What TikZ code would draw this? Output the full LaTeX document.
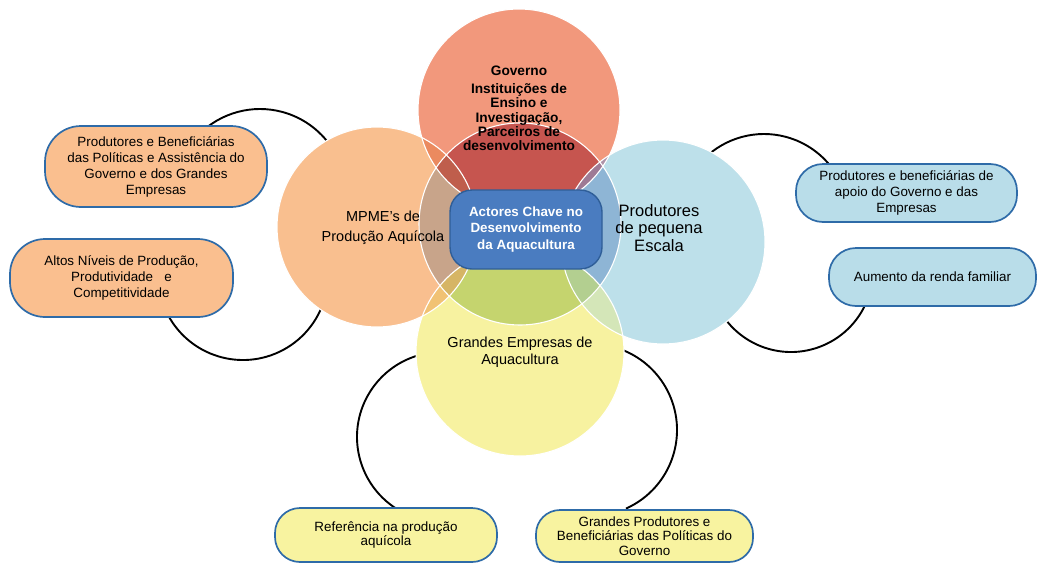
\documentclass[tikz,border=0pt]{standalone}
\usepackage{fontspec}
\setmainfont{Liberation Sans}
\definecolor{colT}{HTML}{F2987C}
\definecolor{colL}{HTML}{F9BF8F}
\definecolor{colR}{HTML}{BDE0EA}
\definecolor{colB}{HTML}{F7F2A0}
\definecolor{colTL}{HTML}{EB8A5F}
\definecolor{colTR}{HTML}{AE93A8}
\definecolor{colLB}{HTML}{F1C274}
\definecolor{colRB}{HTML}{D4E6B8}
\definecolor{colCT}{HTML}{C6554F}
\definecolor{colCL}{HTML}{C8A48A}
\definecolor{colCR}{HTML}{8EB5D5}
\definecolor{colCB}{HTML}{C5D46E}
\definecolor{colCTL}{HTML}{BF5E4C}
\definecolor{colCTR}{HTML}{9E7A95}
\definecolor{colCLB}{HTML}{D6B565}
\definecolor{colCRB}{HTML}{B3CF90}
\definecolor{boxborder}{HTML}{2E6BA8}
\definecolor{boxorange}{HTML}{FABF8F}
\definecolor{boxblue}{HTML}{B9DDE9}
\definecolor{boxyellow}{HTML}{F8F3A0}
\definecolor{ctrfill}{HTML}{4A7CC0}
\definecolor{ctrborder}{HTML}{2F5E98}
\tikzset{
  arcline/.style={line width=1.9pt, draw=black},
  ringline/.style={draw=white, line width=1.1pt},
  outbox/.style={draw=boxborder, line width=1.7pt, align=center, inner sep=0pt,
    font=\fontsize{13.4}{16}\selectfont},
  obox/.style={outbox, fill=boxorange},
  bbox/.style={outbox, fill=boxblue},
  ybox/.style={outbox, fill=boxyellow},
  ctext/.style={align=center, inner sep=0pt, font=\fontsize{14.5}{20}\selectfont},
  ctrbox/.style={draw=ctrborder, line width=1.4pt, fill=ctrfill, text=white, align=center,
    inner sep=0pt, rounded corners=22pt, font=\bfseries\fontsize{13.4}{16.7}\selectfont}
}
\begin{document}
\begin{tikzpicture}[x=1pt,y=-1pt]
\useasboundingbox (0,0) rectangle (1040,565);
% circle centres
\coordinate (cT) at (519,110);
\coordinate (cL) at (377,227);
\coordinate (cR) at (663,242);
\coordinate (cB) at (520,352);
\coordinate (cC) at (520,224);
% arc centres
\coordinate (a1) at (260,195);
\coordinate (a2) at (243,275);
\coordinate (a3) at (764,219);
\coordinate (a4) at (791,270);
\coordinate (a5) at (442,437);
\coordinate (a6) at (591,430);
% connector arcs
\draw[arcline] (a1) ++(225:86) arc[start angle=225, end angle=330, radius=86];
\draw[arcline] (a2) ++(155:85) arc[start angle=155, end angle=15, radius=85];
\draw[arcline] (a3) ++(225:85) arc[start angle=225, end angle=326, radius=85];
\draw[arcline] (a4) ++(160:82) arc[start angle=160, end angle=22, radius=82];
\draw[arcline] (a5) ++(260:85) arc[start angle=260, end angle=118, radius=85];
\draw[arcline] (a6) ++(-75:86) arc[start angle=-75, end angle=66, radius=86];
% base circles
\fill[colT] (cT) circle[radius=101];
\fill[colL] (cL) circle[radius=100];
\fill[colR] (cR) circle[radius=102];
\fill[colB] (cB) circle[radius=104];
% pairwise overlaps
\begin{scope}\clip (cT) circle[radius=101]; \fill[colTL] (cL) circle[radius=100];\end{scope}
\begin{scope}\clip (cT) circle[radius=101]; \fill[colTR] (cR) circle[radius=102];\end{scope}
\begin{scope}\clip (cB) circle[radius=104]; \fill[colLB] (cL) circle[radius=100];\end{scope}
\begin{scope}\clip (cB) circle[radius=104]; \fill[colRB] (cR) circle[radius=102];\end{scope}
% overlaps with hidden central circle
\begin{scope}\clip (cC) circle[radius=101];
  \fill[colCT] (cT) circle[radius=101];
  \fill[colCL] (cL) circle[radius=100];
  \fill[colCR] (cR) circle[radius=102];
  \fill[colCB] (cB) circle[radius=104];
\end{scope}
\begin{scope}\clip (cC) circle[radius=101]; \clip (cT) circle[radius=101]; \fill[colCTL] (cL) circle[radius=100];\end{scope}
\begin{scope}\clip (cC) circle[radius=101]; \clip (cT) circle[radius=101]; \fill[colCTR] (cR) circle[radius=102];\end{scope}
\begin{scope}\clip (cC) circle[radius=101]; \clip (cB) circle[radius=104]; \fill[colCLB] (cL) circle[radius=100];\end{scope}
\begin{scope}\clip (cC) circle[radius=101]; \clip (cB) circle[radius=104]; \fill[colCRB] (cR) circle[radius=102];\end{scope}
% white outlines
\draw[ringline] (cT) circle[radius=101];
\draw[ringline] (cL) circle[radius=100];
\draw[ringline] (cR) circle[radius=102];
\draw[ringline] (cB) circle[radius=104];
\draw[ringline] (cC) circle[radius=101];
% circle labels
\node[ctext, font=\bfseries\fontsize{13.7}{14.3}\selectfont] (tT) at (519,108.5)
  {Governo\\[3.7pt]Instituições de\\Ensino e\\Investigação,\\Parceiros de\\desenvolvimento};
\node[ctext] (tL) at (383,228) {MPME’s de\\Produção Aquícola};
\node[ctext, font=\fontsize{16.5}{17.8}\selectfont] (tR) at (659,228) {Produtores\\de pequena\\Escala};
\node[ctext, font=\fontsize{14.5}{17.5}\selectfont] (tB) at (520,352) {Grandes Empresas de\\Aquacultura};
% central box
\node[ctrbox, minimum width=152pt, minimum height=79pt] (ctr) at (526,229.5)
  {Actores Chave no\\Desenvolvimento\\da Aquacultura};
% outer boxes
\node[obox, minimum width=222pt, minimum height=81pt, rounded corners=36pt] (b1) at (156,166.5)
  {Produtores e Beneficiárias\\das Políticas e Assistência do\\Governo e dos Grandes\\Empresas};
\node[obox, minimum width=223pt, minimum height=78pt, rounded corners=35pt] (b2) at (121.5,278)
  {Altos Níveis de Produção,\\Produtividade\ \ \ e\\Competitividade};
\node[bbox, minimum width=221pt, minimum height=58pt, rounded corners=27pt] (b3) at (906.5,193)
  {Produtores e beneficiárias de\\apoio do Governo e das\\Empresas};
\node[bbox, minimum width=207pt, minimum height=58pt, rounded corners=27pt] (b4) at (932.5,277)
  {Aumento\ da renda familiar};
\node[ybox, minimum width=222pt, minimum height=54pt, rounded corners=25pt,
  font=\fontsize{13.4}{14.8}\selectfont] (b5) at (386,535)
  {Referência na produção\\aquícola};
\node[ybox, minimum width=217pt, minimum height=52pt, rounded corners=24pt,
  font=\fontsize{13.4}{14.3}\selectfont] (b6) at (644.5,536)
  {Grandes Produtores e\\Beneficiárias das Políticas do\\Governo};
\end{tikzpicture}
\end{document}
